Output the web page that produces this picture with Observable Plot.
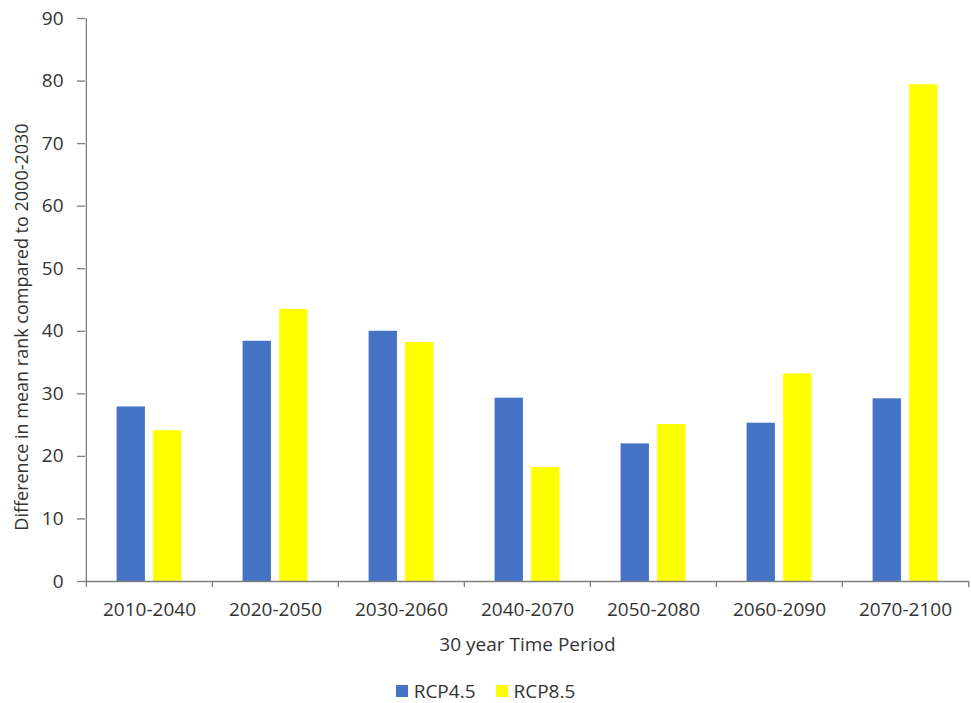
<!DOCTYPE html>
<html>
<head>
<meta charset="utf-8">
<script src="https://cdn.jsdelivr.net/npm/d3@7"></script>
<script src="https://cdn.jsdelivr.net/npm/@observablehq/plot@0.6"></script>
<style>
  html, body { margin: 0; padding: 0; background: #fff; }
  #chart { width: 971px; font-family: "Open Sans", sans-serif; }
  #legend { display: flex; justify-content: center; gap: 20px; margin-top: 18px; width: 971px;
            font: 19px "Open Sans", sans-serif; color: #333; }
  #legend span.item { display: inline-flex; align-items: center; gap: 6px; }
  #legend span.sw { display: inline-block; width: 12px; height: 12px; }
</style>
</head>
<body>
<div id="chart"></div>
<script>
const periods = ["2010-2040", "2020-2050", "2030-2060", "2040-2070", "2050-2080", "2060-2090", "2070-2100"];
const rcp45 = [27.9, 38.4, 40.0, 29.3, 22.0, 25.3, 29.2];
const rcp85 = [24.1, 43.5, 38.2, 18.2, 25.1, 33.2, 79.4];
const seriesNames = ["RCP4.5", "RCP8.5"];
const seriesColors = ["#4472C4", "#FFFF00"];
const yTicks = [0, 10, 20, 30, 40, 50, 60, 70, 80, 90];
const yTitle = "Difference in mean rank compared to 2000-2030";
const xTitle = "30 year Time Period";

const W = 971, H = 660, mL = 85, mR = 2, mT = 18, mB = 79;
const bw = (W - mL - mR) / periods.length;

const d45 = periods.map((p, i) => ({period: p, value: rcp45[i]}));
const d85 = periods.map((p, i) => ({period: p, value: rcp85[i]}));

const textColor = "#333333";
const axisColor = "#7f7f7f";

const plot = Plot.plot({
  width: W,
  height: H,
  marginLeft: mL,
  marginRight: mR,
  marginTop: mT,
  marginBottom: mB,
  style: {fontFamily: "Open Sans, sans-serif", fontSize: "19px", color: textColor, background: "#fff", overflow: "visible"},
  x: {domain: periods, padding: 0},
  y: {domain: [0, 90]},
  marks: [
    Plot.barY(d45, {x: "period", y: "value", fill: seriesColors[0], insetLeft: 30.6, insetRight: 67.1}),
    Plot.barY(d85, {x: "period", y: "value", fill: seriesColors[1], insetLeft: 67.1, insetRight: 30.6}),
    Plot.ruleY([0], {stroke: axisColor, strokeWidth: 1.3}),
    Plot.ruleX([periods[0]], {dx: -bw / 2, stroke: axisColor, strokeWidth: 1.3}),
    Plot.axisY({ticks: yTicks, tickSize: 8, tickPadding: 14, stroke: axisColor, strokeWidth: 1.3,
                fill: textColor, fontSize: 19, label: null, tickFormat: d => String(d)}),
    Plot.axisX({tickSize: 6, text: null, dx: -bw / 2, stroke: axisColor, strokeWidth: 1.3, label: null}),
    Plot.axisX({ticks: [periods[periods.length - 1]], tickSize: 6, text: null, dx: bw / 2, stroke: axisColor, strokeWidth: 1.3, label: null}),
    Plot.axisX({tickSize: 0, tickPadding: 21, fill: textColor, fontSize: 19, label: null}),
    Plot.text([xTitle], {frameAnchor: "bottom", dy: 69, fill: textColor, fontSize: 19}),
    Plot.text([yTitle], {frameAnchor: "left", textAnchor: "middle", dx: -63, dy: 27, rotate: -90, fill: textColor, fontSize: 18})
  ]
});

document.getElementById("chart").appendChild(plot);

const legend = document.createElement("div");
legend.id = "legend";
seriesNames.forEach((name, i) => {
  const item = document.createElement("span");
  item.className = "item";
  const sw = document.createElement("span");
  sw.className = "sw";
  sw.style.background = seriesColors[i];
  item.appendChild(sw);
  item.appendChild(document.createTextNode(name));
  legend.appendChild(item);
});
document.getElementById("chart").appendChild(legend);
</script>
</body>
</html>
